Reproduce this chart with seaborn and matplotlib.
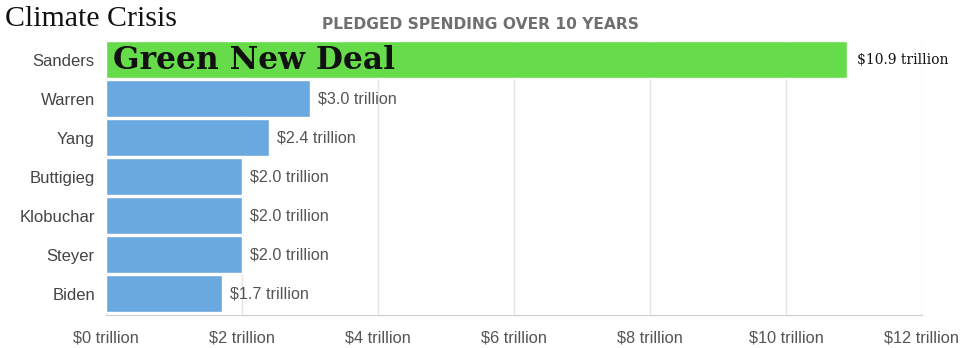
import matplotlib
matplotlib.use("Agg")
import matplotlib.pyplot as plt
import seaborn as sns
import pandas as pd

candidates = ["Sanders", "Warren", "Yang", "Buttigieg", "Klobuchar", "Steyer", "Biden"]
spending = [10.9, 3.0, 2.4, 2.0, 2.0, 2.0, 1.7]
bar_colors = ["#66dc4a", "#6aa9e0", "#6aa9e0", "#6aa9e0", "#6aa9e0", "#6aa9e0", "#6aa9e0"]
x_ticks = [0, 2, 4, 6, 8, 10, 12]
x_tick_labels = [f"${t} trillion" for t in x_ticks]

df = pd.DataFrame({"candidate": candidates, "spending": spending})

sns.set_style("white")
plt.rcParams['font.family'] = ['Liberation Sans', 'DejaVu Sans']

fig = plt.figure(figsize=(9.76, 3.48), dpi=100)
ax = fig.add_axes([0.1086, 0.0948, 0.836, 0.79])

sns.barplot(data=df, x="spending", y="candidate", hue="candidate",
            palette=bar_colors, legend=False, width=0.95, ax=ax, saturation=1)

ax.set_xlim(0, 12)
ax.set_ylim(6.55, -0.5)
ax.set_xticks(x_ticks)
ax.set_xticklabels(x_tick_labels, color="#555555", fontsize=11.8)
ax.tick_params(axis="y", labelsize=12, labelcolor="#444444", length=0, pad=8)
ax.tick_params(axis="x", length=5, color="#cccccc", pad=6)
ax.set_xlabel("")
ax.set_ylabel("")
ax.xaxis.grid(True, color="#e6e6e6", linewidth=1)
ax.set_axisbelow(True)
for s in ["top", "right", "left"]:
    ax.spines[s].set_visible(False)
ax.spines["bottom"].set_color("#cccccc")

for i, v in enumerate(spending):
    if i == 0:
        ax.text(v + 0.15, i, f"${v} trillion", va="center", ha="left",
                fontsize=10, color="#111111", family="DejaVu Serif")
    else:
        ax.text(v + 0.12, i, f"${v} trillion", va="center", ha="left",
                fontsize=11.6, color="#555555")

ax.text(0.1, 0.02, "Green New Deal", va="center", ha="left", fontsize=22.5,
        fontweight="bold", family="DejaVu Serif", color="#111111")

fig.text(0.005, 0.945, "Climate Crisis", fontsize=21.5, family="Liberation Serif",
         color="#111111", va="center", ha="left")
fig.text(0.492, 0.93, "PLEDGED SPENDING OVER 10 YEARS", fontsize=11.2,
         color="#707070", va="center", ha="center", fontweight="bold",
         family="DejaVu Sans")

fig.savefig("out.png", dpi=100)
